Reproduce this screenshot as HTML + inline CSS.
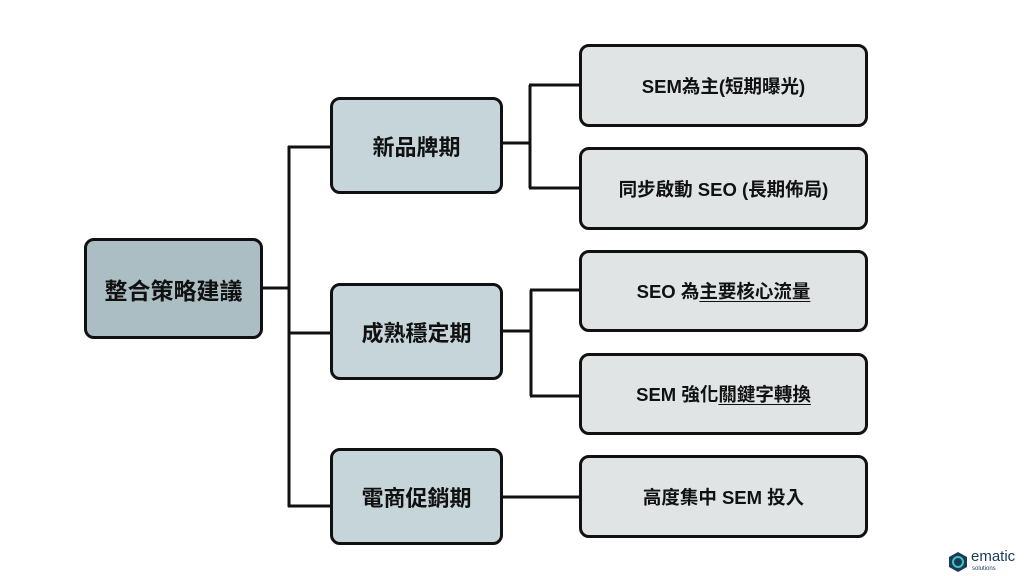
<!DOCTYPE html>
<html><head><meta charset="utf-8"><style>
body{margin:0;width:1024px;height:576px;background:#fff;position:relative;overflow:hidden;font-family:"Liberation Sans","Noto Sans CJK TC",sans-serif;}
.b{position:absolute;box-sizing:border-box;border:3px solid #111;border-radius:10px;display:flex;align-items:center;justify-content:center;font-weight:bold;color:#111;}
.r{background:#aabec3;font-size:23px;}
.m{background:#c5d5d9;font-size:22px;}
.s{background:#e0e4e4;font-size:18.5px;}
u{text-decoration:underline;text-underline-offset:3px;text-decoration-thickness:1px;}
</style></head><body>
<svg width="1024" height="576" style="position:absolute;left:0;top:0">
<g stroke="#111" stroke-width="3" fill="none">
<path d="M262 288H289M289 146V507M288 147H331M288 333H331M288 506H331"/>
<path d="M501 143H530M530 85V188M529 85H581M529 188H581"/>
<path d="M503 331H531M531 290V396M530 290H581M530 396H581"/>
<path d="M502 497H581"/>
</g>
</svg>
<div class="b r" style="left:84px;top:238px;width:179px;height:101px">整合策略建議</div>
<div class="b m" style="left:330px;top:97px;width:173px;height:97px">新品牌期</div>
<div class="b m" style="left:330px;top:283px;width:173px;height:97px">成熟穩定期</div>
<div class="b m" style="left:330px;top:448px;width:173px;height:97px">電商促銷期</div>
<div class="b s" style="left:579px;top:44px;width:289px;height:83px">SEM為主(短期曝光)</div>
<div class="b s" style="left:579px;top:147px;width:289px;height:83px">同步啟動 SEO (長期佈局)</div>
<div class="b s" style="left:579px;top:250px;width:289px;height:82px">SEO 為<u>主要核心流量</u></div>
<div class="b s" style="left:579px;top:353px;width:289px;height:82px">SEM 強化<u>關鍵字轉換</u></div>
<div class="b s" style="left:579px;top:455px;width:289px;height:83px">高度集中 SEM 投入</div>
<svg width="20" height="22" style="position:absolute;left:948px;top:551px" viewBox="0 0 20 22">
<polygon points="10,1 19,6 19,16 10,21 1,16 1,6" fill="#1b3a5c"/>
<circle cx="10" cy="11" r="5" fill="none" stroke="#3cc8b4" stroke-width="2"/>
</svg>
<div style="position:absolute;left:971px;top:548px;font-size:15px;color:#1b3a5c;">ematic</div>
<div style="position:absolute;left:972px;top:566px;font-size:6px;color:#1b3a5c;">solutions</div>
</body></html>
